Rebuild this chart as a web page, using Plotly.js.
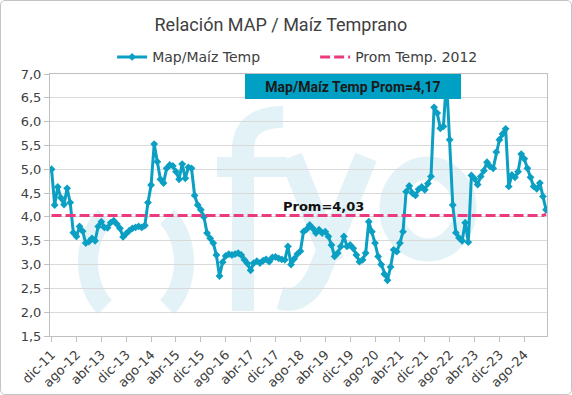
<!DOCTYPE html>
<html>
<head>
<meta charset="utf-8">
<script src="https://cdn.plot.ly/plotly-3.0.1.min.js"></script>
<style>
  html, body { margin: 0; padding: 0; background: #ffffff; }
  #wm { position: absolute; left: 0; top: 0; z-index: 0; }
  #chart { position: absolute; left: 0; top: 0; width: 570px; height: 393px;
           border: 1px solid #c4c4c4; border-radius: 5px; z-index: 1; }
</style>
</head>
<body>
<svg id="wm" width="572" height="395">
  <g fill="none" stroke="#e3f2f6">
    <path d="M105,217 A40,55 0 0 0 105,307" stroke-width="20"/>
    <path d="M167,217 A40,55 0 0 1 167,307" stroke-width="20"/>
    <path d="M243,311 L243,150 Q243,117 283,117" stroke-width="22"/>
    <path d="M217,167 L287,167" stroke-width="20"/>
    <path d="M291,157 L333,262" stroke-width="23"/>
    <path d="M366,157 L318,275 Q303,305 280,298" stroke-width="23"/>
    <ellipse cx="428" cy="209" rx="37" ry="41" stroke-width="23"/>
  </g>
</svg>
<div id="chart"></div>
<script>
// Relación MAP / Maíz Temprano, monthly from dic-11
const ratio = [
  5.00, 4.25, 4.63, 4.40, 4.26, 4.60, 4.30, 3.67, 3.59, 3.80,
  3.70, 3.45, 3.48, 3.55, 3.50, 3.80, 3.90, 3.78, 3.77, 3.88,
  3.92, 3.85, 3.76, 3.58, 3.65, 3.71, 3.76, 3.78, 3.80, 3.78,
  3.82, 4.30, 4.67, 5.53, 5.16, 4.79, 4.71, 5.02, 5.09, 5.07,
  4.95, 4.79, 5.11, 4.81, 5.04, 5.02, 4.45, 4.25, 4.15, 4.00,
  3.66, 3.55, 3.45, 3.20, 2.76, 3.05, 3.18, 3.22, 3.20, 3.22,
  3.24, 3.20, 3.10, 3.02, 2.88, 3.03, 3.07, 3.03, 3.08, 3.11,
  3.06, 3.15, 3.16, 3.13, 3.11, 3.10, 3.38, 3.00, 3.12, 3.22,
  3.28, 3.69, 3.74, 3.83, 3.76, 3.66, 3.73, 3.66, 3.69, 3.59,
  3.41, 3.17, 3.24, 3.38, 3.59, 3.38, 3.41, 3.34, 3.20, 3.06,
  3.10, 3.24, 3.90, 3.69, 3.45, 3.17, 3.00, 2.80, 2.67, 2.95,
  3.31, 3.27, 3.45, 3.69, 4.53, 4.65, 4.50, 4.45, 4.58, 4.63,
  4.57, 4.70, 4.85, 6.30, 6.18, 5.86, 5.90, 6.90, 5.62, 4.25,
  3.67, 3.56, 3.50, 3.88, 3.47, 4.87, 4.80, 4.68, 4.85, 4.97,
  5.15, 5.06, 5.02, 5.36, 5.62, 5.74, 5.85, 4.64, 4.88, 4.83,
  4.95, 5.32, 5.22, 5.02, 4.83, 4.64, 4.59, 4.71, 4.43, 4.15
];
const promValue = 4.03;
const promEnd = 4.06;
const monthNames = ['ene','feb','mar','abr','may','jun','jul','ago','sep','oct','nov','dic'];
const tickLabels = ['dic-11','ago-12','abr-13','dic-13','ago-14','abr-15','dic-15','ago-16','abr-17','dic-17',
                    'ago-18','abr-19','dic-19','ago-20','abr-21','dic-21','ago-22','abr-23','dic-23','ago-24'];
const yTicks = [1.5, 2.0, 2.5, 3.0, 3.5, 4.0, 4.5, 5.0, 5.5, 6.0, 6.5, 7.0];

// month categories (dic-11 onward)
const months = ratio.map((_, i) => {
  const k = 11 + i;
  return monthNames[k % 12] + '-' + String(11 + Math.floor(k / 12)).padStart(2, '0');
});
const prom = ratio.map(() => promValue);
prom[prom.length - 1] = promEnd;

const lineColor = '#0b9fc3';
const traces = [
  {
    x: months, y: ratio, name: 'Map/Maíz Temp', type: 'scatter', mode: 'lines+markers',
    line: { color: lineColor, width: 3 },
    marker: { symbol: 'diamond', size: 6, color: lineColor }
  },
  {
    x: months, y: prom, name: 'Prom Temp. 2012', type: 'scatter', mode: 'lines',
    line: { color: '#ec3a7e', width: 3, dash: '10px,4px' }
  }
];

const axisFont = { family: 'DejaVu Sans, Verdana, sans-serif', size: 13, color: '#404040' };
const layout = {
  width: 570, height: 393,
  margin: { l: 49, r: 24, t: 73, b: 58 },
  paper_bgcolor: 'rgba(0,0,0,0)', plot_bgcolor: 'rgba(0,0,0,0)',
  separators: ',.',
  title: {
    text: 'Relación MAP / Maíz Temprano',
    font: { family: 'Roboto, sans-serif', size: 18, color: '#404040' },
    xref: 'container', yref: 'container', x: 0.491, y: 0.939, xanchor: 'center', yanchor: 'middle'
  },
  showlegend: true,
  legend: {
    orientation: 'h', x: 0.125, y: 1.0637, xanchor: 'left', yanchor: 'middle',
    font: { family: 'DejaVu Sans, Verdana, sans-serif', size: 14, color: '#404040' },
    entrywidth: 158, entrywidthmode: 'pixels', bgcolor: 'rgba(0,0,0,0)'
  },
  xaxis: {
    type: 'category', range: [-0.5, 159.3],
    tickmode: 'array', tickvals: tickLabels, ticktext: tickLabels,
    tickangle: -45, tickfont: axisFont,
    ticks: 'outside', ticklen: 5, tickcolor: '#bfbfbf',
    showgrid: false, showline: true, linecolor: '#bfbfbf', linewidth: 1, mirror: true,
    zeroline: false
  },
  yaxis: {
    range: [1.5, 7.0], tickmode: 'array', tickvals: yTicks, tickformat: '.1f',
    tickfont: axisFont, ticks: 'outside', ticklen: 5, tickcolor: '#bfbfbf',
    showgrid: true, gridcolor: '#d9d9d9', gridwidth: 1,
    showline: true, linecolor: '#bfbfbf', linewidth: 1, mirror: true, zeroline: false
  },
  annotations: [
    {
      text: 'Map/Maíz Temp Prom=4,17', xref: 'paper', yref: 'paper',
      x: 0.609, y: 1, xanchor: 'center', yanchor: 'top', showarrow: false,
      width: 216, height: 25, bgcolor: '#00a0c4', borderwidth: 0, borderpad: 0,
      font: { family: 'Roboto, sans-serif', size: 14, color: '#1a1a1a', weight: 700 }
    },
    {
      text: 'Prom=4,03', xref: 'paper', yref: 'paper',
      x: 0.551, y: 0.496, xanchor: 'center', yanchor: 'middle', showarrow: false,
      font: { family: 'DejaVu Sans, Verdana, sans-serif', size: 13, color: '#111111', weight: 700 }
    }
  ]
};

Plotly.newPlot('chart', traces, layout, { displayModeBar: false, responsive: false });
</script>
</body>
</html>
